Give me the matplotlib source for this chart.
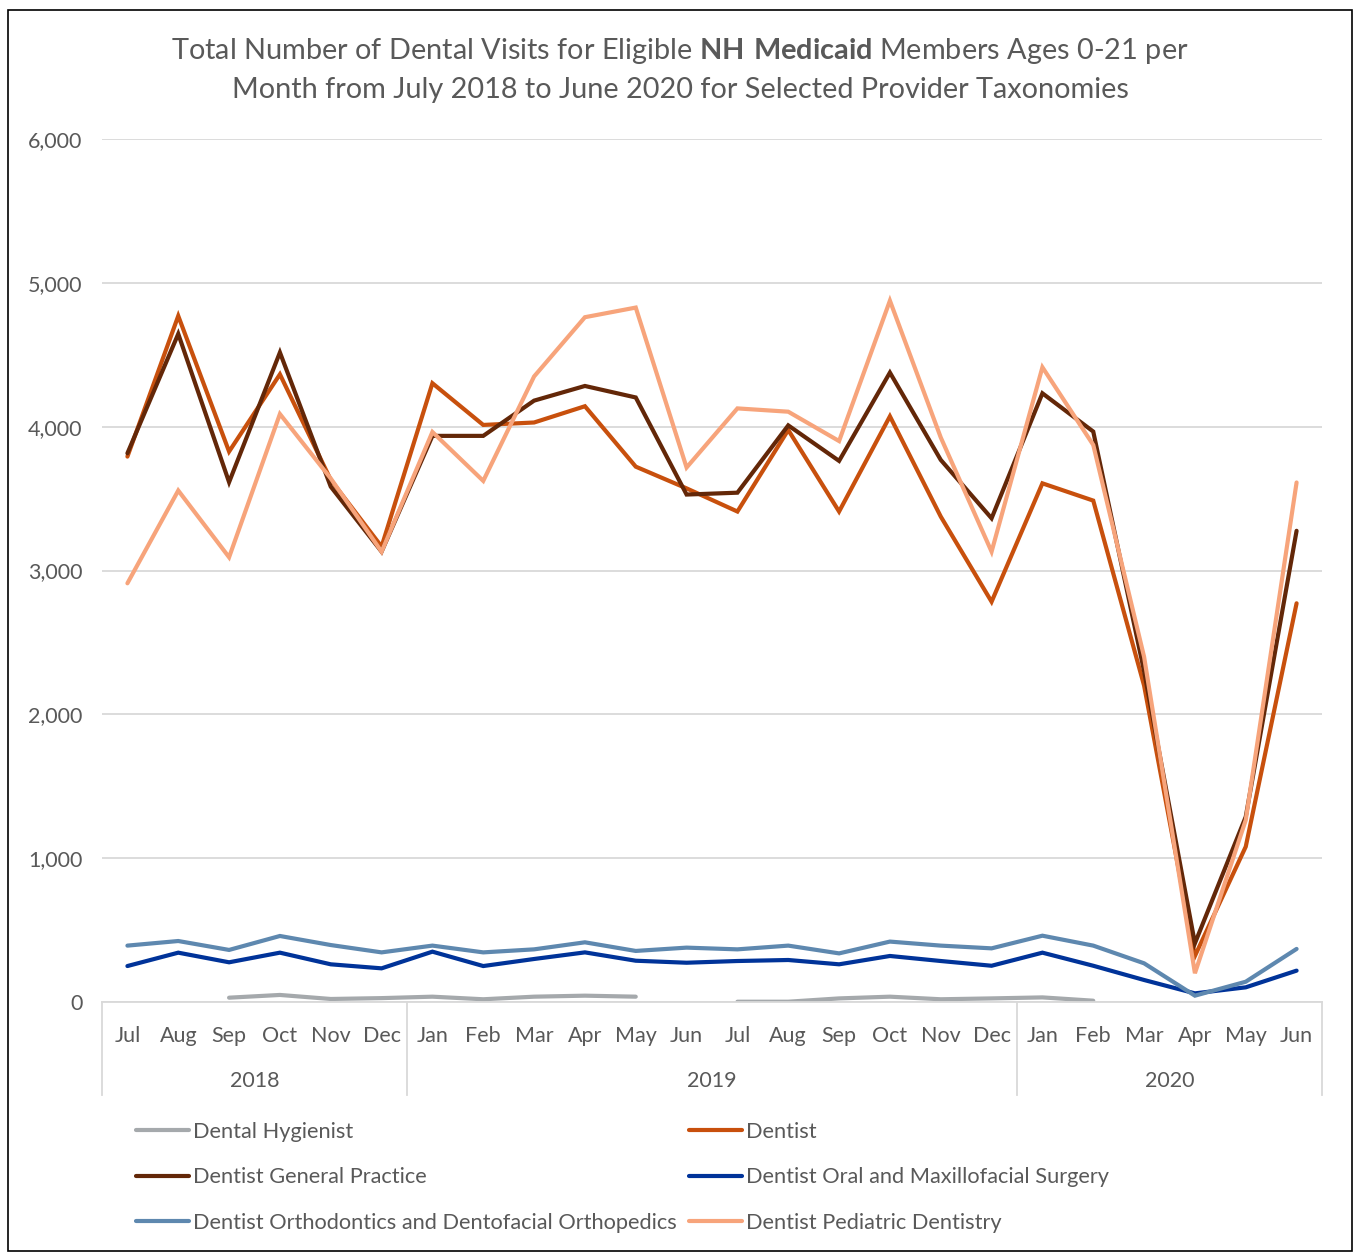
import matplotlib
matplotlib.use("Agg")
import matplotlib.pyplot as plt
import numpy as np
from matplotlib.patches import Rectangle
import matplotlib.transforms as mtransforms

plt.rcParams['font.family'] = ['Lato', 'DejaVu Sans']
plt.rcParams['mathtext.fontset'] = 'custom'
plt.rcParams['mathtext.rm'] = 'Lato'
plt.rcParams['mathtext.bf'] = 'Lato:bold'

months = ["Jul", "Aug", "Sep", "Oct", "Nov", "Dec", "Jan", "Feb", "Mar", "Apr", "May", "Jun",
          "Jul", "Aug", "Sep", "Oct", "Nov", "Dec", "Jan", "Feb", "Mar", "Apr", "May", "Jun"]
years = ["2018", "2019", "2020"]
year_counts = [6, 12, 6]

nan = np.nan
hygienist = [nan, nan, 30, 49, 21, 27, 37, 19, 37, 44, 37, nan,
             2, 2, 25, 37, 19, 25, 32, 9, nan, nan, nan, nan]
dentist = [3792, 4770, 3827, 4364, 3630, 3166, 4302, 4012, 4029, 4142, 3722, 3571,
           3410, 3977, 3410, 4072, 3375, 2783, 3606, 3486, 2200, 320, 1080, 2772]
general = [3815, 4645, 3614, 4516, 3583, 3131, 3936, 3936, 4181, 4283, 4203, 3528,
           3541, 4009, 3762, 4376, 3769, 3363, 4232, 3966, 2300, 408, 1288, 3276]
oral = [250, 343, 276, 343, 262, 234, 350, 250, 299, 345, 287, 273,
        285, 292, 262, 320, 285, 252, 343, 252, 153, 60, 102, 218]
ortho = [392, 424, 362, 459, 396, 345, 392, 345, 366, 415, 355, 378,
         366, 392, 338, 420, 392, 373, 461, 392, 269, 44, 141, 369]
pediatric = [2911, 3556, 3092, 4088, 3640, 3131, 3963, 3623, 4349, 4761, 4828, 3716,
             4127, 4104, 3900, 4876, 3925, 3131, 4413, 3873, 2400, 200, 1265, 3612]

series = [
    ("Dental Hygienist", hygienist, "#A5A9AC"),
    ("Dentist", dentist, "#C8500D"),
    ("Dentist General Practice", general, "#632708"),
    ("Dentist Oral and Maxillofacial Surgery", oral, "#003399"),
    ("Dentist Orthodontics and Dentofacial Orthopedics", ortho, "#5E88AF"),
    ("Dentist Pediatric Dentistry", pediatric, "#F7A47B"),
]

W, H = 1353, 1252
fig = plt.figure(figsize=(W / 100, H / 100), dpi=100)
ax = fig.add_axes([102 / W, 1 - 1002 / H, 1220 / W, 863 / H])

text_color = "#595959"
grid_color = "#D9D9D9"
lw = 3.0

x = np.arange(len(months))
handles = {}
for name, vals, col in series:
    ln, = ax.plot(x, vals, color=col, lw=lw, solid_capstyle='round', solid_joinstyle='miter', label=name)
    handles[name] = ln

ax.set_xlim(-0.5, len(months) - 0.5)
ax.set_ylim(0, 6000)
ax.set_yticks(np.arange(0, 6001, 1000))
ax.set_yticklabels([f"{v:,}" for v in range(0, 6001, 1000)])
ax.yaxis.grid(True, color=grid_color, lw=1.3)
ax.set_axisbelow(True)
for s in ["top", "right", "left"]:
    ax.spines[s].set_visible(False)
ax.spines["bottom"].set_color(grid_color)
ax.spines["bottom"].set_linewidth(1.3)
ax.tick_params(axis='y', length=0, pad=14, labelsize=15.5, labelcolor=text_color)
ax.set_xticks(x)
ax.set_xticklabels(months)
ax.tick_params(axis='x', length=0, pad=17, labelsize=15.5, labelcolor=text_color)

trans = mtransforms.blended_transform_factory(ax.transData, ax.transAxes)
bounds = np.concatenate([[0], np.cumsum(year_counts)]) - 0.5
for b in bounds:
    ax.plot([b, b], [0, -93 / 863], transform=trans, color=grid_color, lw=1.3, clip_on=False)
for i, yr in enumerate(years):
    c = (bounds[i] + bounds[i + 1]) / 2
    ax.text(c, -79 / 863, yr, transform=trans, ha='center', va='center', fontsize=15.5, color=text_color)

fig.text(680 / W, 1 - 51 / H,
         r"Total Number of Dental Visits for Eligible $\mathbf{NH\ Medicaid}$ Members Ages 0-21 per",
         ha='center', va='center', fontsize=20.8, color=text_color)
fig.text(680 / W, 1 - 90 / H,
         "Month from July 2018 to June 2020 for Selected Provider Taxonomies",
         ha='center', va='center', fontsize=20.8, color=text_color)

col1 = ["Dental Hygienist", "Dentist General Practice", "Dentist Orthodontics and Dentofacial Orthopedics"]
col2 = ["Dentist", "Dentist Oral and Maxillofacial Surgery", "Dentist Pediatric Dentistry"]
leg_kw = dict(loc='upper left', frameon=False, fontsize=15.7, labelcolor=text_color,
              handlelength=2.45, handletextpad=0.15, labelspacing=1.16, borderpad=0, borderaxespad=0)
leg1 = fig.legend([handles[n] for n in col1], col1, bbox_to_anchor=(136 / W, 1 - 1122 / H), **leg_kw)
leg2 = fig.legend([handles[n] for n in col2], col2, bbox_to_anchor=(689 / W, 1 - 1122 / H), **leg_kw)

fig.add_artist(Rectangle((8 / W, 1 / H), (1352 - 8) / W, (1250 - 9) / H, transform=fig.transFigure,
                         fill=False, edgecolor="black", lw=1.2))

fig.savefig("out.png", dpi=100)
